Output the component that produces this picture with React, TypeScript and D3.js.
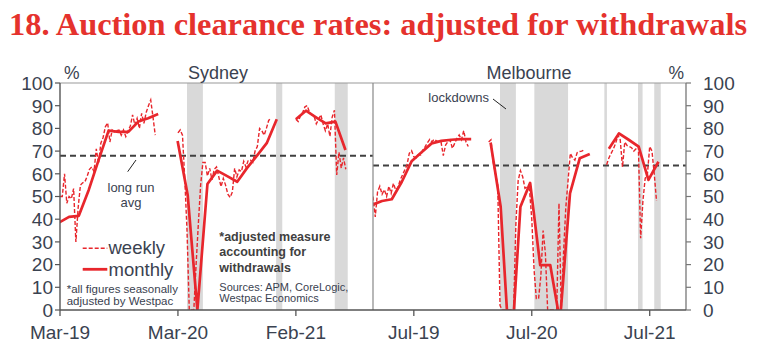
import React from 'react';
import * as d3 from 'd3';

// ---------- data ----------
const DOMAIN_START = '2019-03-03';
const DOMAIN_END = '2021-10-24';

const yTicks = [0, 10, 20, 30, 40, 50, 60, 70, 80, 90, 100];

const sydTickDates = ['2019-03-03', '2020-03-01', '2021-02-28'];
const sydTickLabels = ['Mar-19', 'Mar-20', 'Feb-21'];
const melTickDates = ['2019-07-07', '2020-07-05', '2021-07-04'];
const melTickLabels = ['Jul-19', 'Jul-20', 'Jul-21'];

const sydLongRunAvg = 68;
const melLongRunAvg = 63.7;

// monthly (plotted at month end); first month of each segment
const sydMonthly19Start = '2019-02';
const sydMonthly19 = [38.5, 41, 41.5, 53, 66, 79, 78.5, 78.5, 83, 84.5, 86.3];
const sydMonthly20Start = '2020-02';
const sydMonthly20 = [74.4, 50.7, 0, 55.5, 61.4, 59, 56.5, 62.5, 68, 73.5, 84];
const sydMonthly21Start = '2021-02';
const sydMonthly21 = [84, 87.8, 85, 82.2, 83, 70.5];

const melMonthly19Start = '2019-02';
const melMonthly19 = [46.3, 48, 48.8, 56.5, 65.5, 69.5, 73.4, 74.5, 75, 75.3, 75.3];
const melMonthly20Start = '2020-02';
const melMonthly20 = [73.7, 45.5, -25, 45.5, 56, 19.8, 19.8, -5, 51.4, 66.8, 68.7];
const melMonthly21Start = '2021-02';
const melMonthly21 = [71, 77.8, 75, 72, 57.3, 65.3];

// weekly (first week date of each segment)
const sydWeekly19Start = '2019-03-03';
const sydWeekly19 = [50, 50, 60, 47, 50, 49, 53.5, 30, 45, 55, 56, 56.5, 59, 62, 63, 61, 71, 64.5, 73.5, 76,
  80.7, 82.5, 74, 79.3, 78.5, 79, 79.3, 77, 79.3, 76.4, 79, 81, 86, 81.5, 84.4, 80, 86.6, 82.2, 87, 90, 92.5, 85, 77];
const sydWeekly20Start = '2020-03-01';
const sydWeekly20 = [78, 79.3, 77, 58, 35, 0, 0, 0, 20, 38, 55, 65, 65, 59, 62.4, 57.3, 62, 63, 58.7, 54.3, 58,
  55, 51, 49.6, 52, 62.4, 58.7, 61.7, 61, 65.5, 63, 66, 66, 65, 70, 72, 80, 79, 77, 80, 83.5, 84.5];
const sydWeekly21Start = '2021-02-28';
const sydWeekly21 = [84, 83, 85.5, 87, 89.5, 90, 87, 86, 85.5, 82, 84, 86, 82, 79, 82, 76.5, 85, 88, 59.5, 69.5, 62.5, 67, 62];

const melWeekly19Start = '2019-03-03';
const melWeekly19 = [50, 41, 52, 54.5, 51, 53, 50, 54.5, 51.4, 55.8, 52.9, 54, 57.3, 59.5, 61.7, 64, 69, 70.2, 67.5, 67,
  68.5, 68.3, 70.5, 72, 73.7, 75.2, 74.1, 75.2, 74.5, 74.1, 74, 68, 72.7, 74.1, 74.9, 71.2, 73.4, 75.6, 77.1, 75, 79, 74, 72];
const melWeekly20Start = '2020-02-23';
const melWeekly20 = [74, 75, 65, 60, 55, 2, 0, 0, 0, 0, 0, 0, 38, 57, 61.4, 58.7, 53.6, 54.3, 53, 40, 18, 5, 5, 15, 35, 25,
  0, 0, 0, 0, 0, 47, 0, 25, 45, 57, 69, 67, 66, 69.3, 69.8, 70, 70.5];
const melWeekly21Start = '2021-02-21';
const melWeekly21 = [64, 67, 69, 71, 73.5, 77, 75, 63, 74, 72.5, 72, 71.5, 70, 71, 72, 31.6, 48, 58, 60, 72, 70, 60, 48];

const sydLockdowns = [
  ['2020-03-29', '2020-05-17'],
  ['2020-12-29', '2021-01-17'],
  ['2021-06-28', '2021-08-07'],
];
const melLockdowns = [
  ['2020-03-29', '2020-05-17'],
  ['2020-07-13', '2020-10-25'],
  ['2021-02-14', '2021-02-22'],
  ['2021-05-29', '2021-06-12'],
  ['2021-07-18', '2021-08-07'],
];

// ---------- helpers ----------
const parse = d3.utcParse('%Y-%m-%d');
type Pt = { d: Date; v: number };
const monthly = (start: string, vals: number[]): Pt[] =>
  vals.map((v, i) => ({ d: d3.utcDay.offset(d3.utcMonth.offset(parse(start + '-01')!, i + 1), -1), v }));
const weekly = (start: string, vals: number[]): Pt[] =>
  vals.map((v, i) => ({ d: d3.utcDay.offset(parse(start)!, 7 * i), v }));

const RED = '#e8262c';
const TXT = '#3a4250';
const FONT = '"Liberation Sans", Arial, sans-serif';

const TOP = 83;
const BOTTOM = 310;
const L0 = 60;
const MID = 373;
const R0 = 686;

export default function App() {
  const y = d3.scaleLinear().domain([0, 100]).range([BOTTOM, TOP]);
  const dom = [parse(DOMAIN_START)!, parse(DOMAIN_END)!];
  const xS = d3.scaleUtc().domain(dom).range([L0, MID]);
  const xM = d3.scaleUtc().domain(dom).range([MID, R0]);

  const panels = [
    {
      id: 'syd', x: xS, x0: L0, x1: MID, avg: sydLongRunAvg, bands: sydLockdowns,
      monthly: [monthly(sydMonthly19Start, sydMonthly19), monthly(sydMonthly20Start, sydMonthly20), monthly(sydMonthly21Start, sydMonthly21)],
      weekly: [weekly(sydWeekly19Start, sydWeekly19), weekly(sydWeekly20Start, sydWeekly20), weekly(sydWeekly21Start, sydWeekly21)],
      ticks: sydTickDates, labels: sydTickLabels,
    },
    {
      id: 'mel', x: xM, x0: MID, x1: R0, avg: melLongRunAvg, bands: melLockdowns,
      monthly: [monthly(melMonthly19Start, melMonthly19), monthly(melMonthly20Start, melMonthly20), monthly(melMonthly21Start, melMonthly21)],
      weekly: [weekly(melWeekly19Start, melWeekly19), weekly(melWeekly20Start, melWeekly20), weekly(melWeekly21Start, melWeekly21)],
      ticks: melTickDates, labels: melTickLabels,
    },
  ];

  return (
    <svg width={757} height={356} style={{ position: 'absolute', left: 0, top: 0, background: '#fff' }}
      fontFamily={FONT}>
      <defs>
        {panels.map(p => (
          <clipPath id={'clip-' + p.id} key={p.id}>
            <rect x={p.x0} y={TOP} width={p.x1 - p.x0} height={BOTTOM - TOP} />
          </clipPath>
        ))}
      </defs>

      <text x={378} y={35} textAnchor="middle" fill="#e5322d" fontFamily='"Liberation Serif", "DejaVu Serif", serif'
        fontWeight="bold" fontSize={31} textLength={738} lengthAdjust="spacingAndGlyphs">
        18. Auction clearance rates: adjusted for withdrawals
      </text>

      {panels.map(p => {
        const line = d3.line<Pt>().x(d => p.x(d.d)).y(d => y(d.v));
        return (
          <g key={p.id}>
            {p.bands.map((b, i) => (
              <rect key={i} x={p.x(parse(b[0])!)} y={TOP} width={p.x(parse(b[1])!) - p.x(parse(b[0])!)}
                height={BOTTOM - TOP} fill="#d9d9d9" />
            ))}
            <line x1={p.x0} x2={p.x1} y1={y(p.avg)} y2={y(p.avg)} stroke="#404040" strokeWidth={2}
              strokeDasharray="6,4" />
            <g clipPath={`url(#clip-${p.id})`}>
              {p.weekly.map((s, i) => (
                <path key={'w' + i} d={line(s)!} fill="none" stroke={RED} strokeWidth={1.4}
                  strokeDasharray="4,2" />
              ))}
              {p.monthly.map((s, i) => (
                <path key={'m' + i} d={line(s)!} fill="none" stroke={RED} strokeWidth={2.7}
                  strokeLinejoin="round" />
              ))}
            </g>
            {p.ticks.map((t, i) => {
              const xx = p.x(parse(t)!);
              return (
                <g key={t}>
                  <line x1={xx} x2={xx} y1={BOTTOM} y2={BOTTOM + 6} stroke="#555" strokeWidth={1.3} />
                  <text x={xx} y={339} textAnchor="middle" fontSize={19} fill={TXT}>{p.labels[i]}</text>
                </g>
              );
            })}
          </g>
        );
      })}

      {/* frame */}
      <line x1={L0} x2={R0} y1={TOP} y2={TOP} stroke="#999" strokeWidth={1.2} />
      <line x1={MID} x2={MID} y1={TOP} y2={BOTTOM} stroke="#888" strokeWidth={1.2} />
      <line x1={R0} x2={R0} y1={TOP} y2={BOTTOM} stroke="#777" strokeWidth={1.3} />
      <line x1={L0} x2={L0} y1={TOP} y2={BOTTOM} stroke="#555" strokeWidth={1.4} />
      <line x1={L0} x2={R0} y1={BOTTOM} y2={BOTTOM} stroke="#555" strokeWidth={1.5} />

      {yTicks.map(t => (
        <g key={t}>
          <line x1={L0 - 5} x2={L0} y1={y(t)} y2={y(t)} stroke="#555" strokeWidth={1.2} />
          <text x={53} y={y(t)} dy="0.36em" textAnchor="end" fontSize={19} fill={TXT}>{t}</text>
          <line x1={R0} x2={R0 + 5} y1={y(t)} y2={y(t)} stroke="#777" strokeWidth={1.2} />
          <text x={703} y={y(t)} dy="0.36em" textAnchor="start" fontSize={19} fill={TXT}>{t}</text>
        </g>
      ))}

      <text x={64} y={79} fontSize={17.5} fill={TXT}>%</text>
      <text x={684} y={79} fontSize={17.5} fill={TXT} textAnchor="end">%</text>
      <text x={218} y={79} fontSize={18} fill={TXT} textAnchor="middle">Sydney</text>
      <text x={529} y={79} fontSize={18} fill={TXT} textAnchor="middle">Melbourne</text>

      {/* annotations */}
      <text x={131} y={191.5} fontSize={13} fill={TXT} textAnchor="middle">long run</text>
      <text x={131} y={206.5} fontSize={13} fill={TXT} textAnchor="middle">avg</text>
      <line x1={127.7} y1={171.7} x2={136} y2={160} stroke="#222" strokeWidth={1} />

      <text x={489} y={101.5} fontSize={13} fill={TXT} textAnchor="end">lockdowns</text>
      <line x1={493} y1={99} x2={506} y2={109} stroke="#222" strokeWidth={1} />

      <line x1={82.7} x2={107.3} y1={248.3} y2={248.3} stroke={RED} strokeWidth={1.4} strokeDasharray="4,2" />
      <text x={108.5} y={254} fontSize={18.5} fill={TXT}>weekly</text>
      <line x1={82.7} x2={107.3} y1={269.3} y2={269.3} stroke={RED} strokeWidth={2.8} />
      <text x={108.5} y={275.5} fontSize={18.5} fill={TXT}>monthly</text>

      <text x={66.7} y={292.5} fontSize={11.5} fill={TXT}>*all figures seasonally</text>
      <text x={66.7} y={304.5} fontSize={11.5} fill={TXT}>adjusted by Westpac</text>

      <text x={219.3} y={240.5} fontSize={12.5} fontWeight="bold" fill="#404040">*adjusted measure</text>
      <text x={219.3} y={256} fontSize={12.5} fontWeight="bold" fill="#404040">accounting for</text>
      <text x={219.3} y={271.5} fontSize={12.5} fontWeight="bold" fill="#404040">withdrawals</text>
      <text x={219.3} y={290.5} fontSize={11} fill={TXT}>Sources: APM, CoreLogic,</text>
      <text x={219.3} y={302} fontSize={11} fill={TXT}>Westpac Economics</text>
    </svg>
  );
}
